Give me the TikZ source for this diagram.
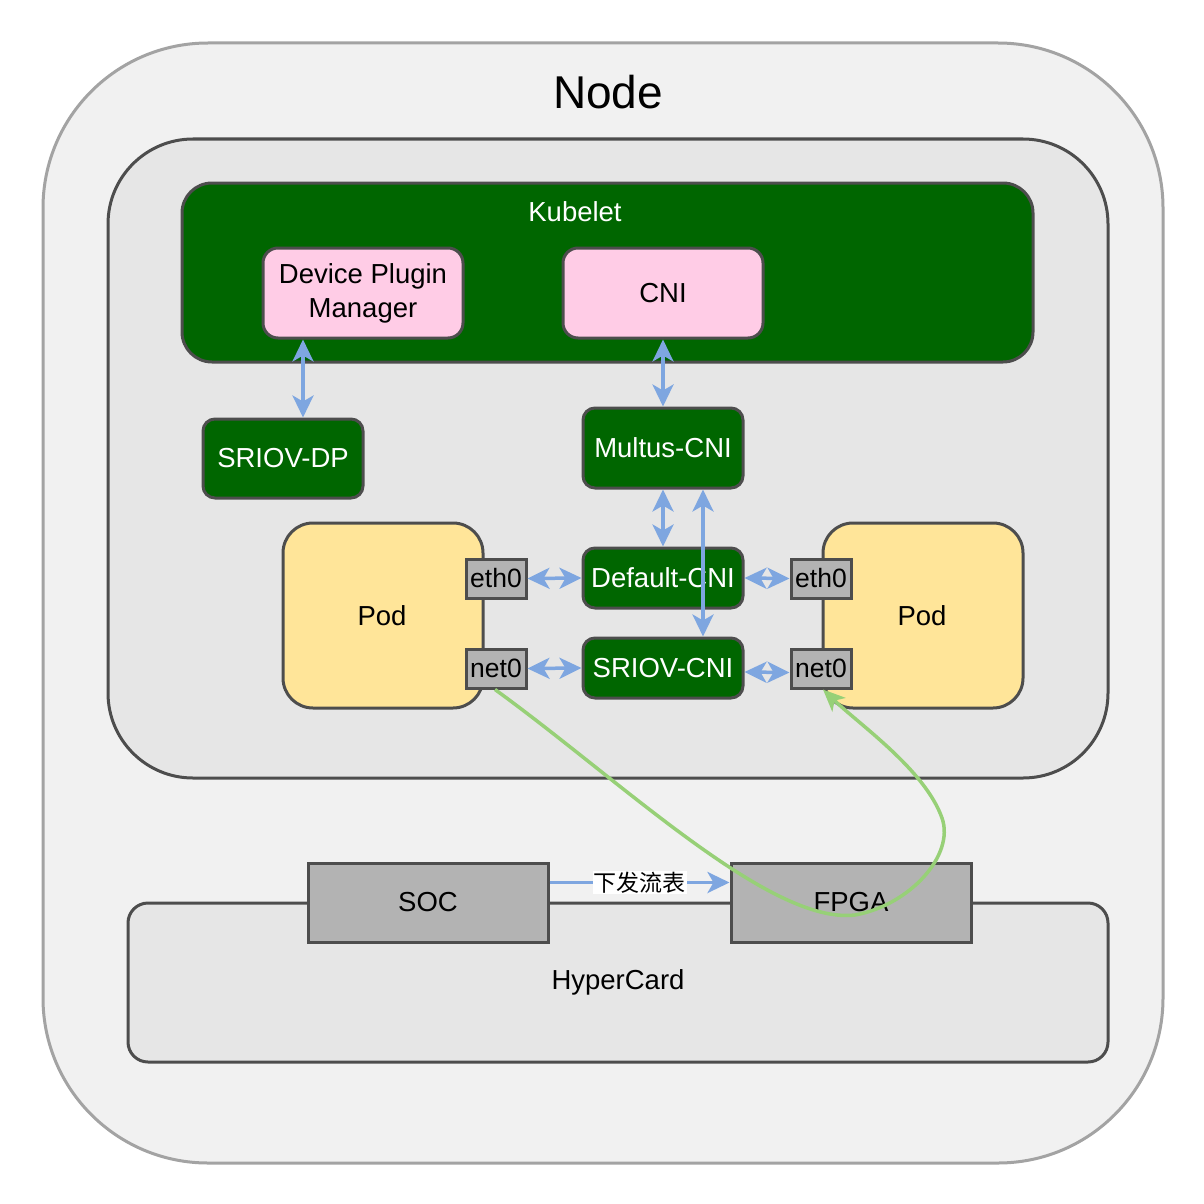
\documentclass[tikz,border=0pt]{standalone}
\usepackage{fontspec}
\setmainfont{Liberation Sans}
\newfontfamily\cjkfont{Noto Sans CJK SC}
\usetikzlibrary{arrows.meta,positioning}
\definecolor{dk}{HTML}{4D4D4D}
\definecolor{outerline}{HTML}{A3A3A3}
\definecolor{outerfill}{HTML}{F1F1F1}
\definecolor{grayfill}{HTML}{E6E6E6}
\definecolor{kgreen}{HTML}{006600}
\definecolor{pinkf}{HTML}{FFCCE6}
\definecolor{podf}{HTML}{FFE599}
\definecolor{portf}{HTML}{B3B3B3}
\definecolor{linkc}{HTML}{7EA6E0}
\definecolor{greenl}{HTML}{97D077}
\tikzset{
  txt/.style={font=\fontsize{27.5}{34}\selectfont, inner sep=0pt, align=center},
  outerbox/.style={draw=outerline, fill=outerfill, line width=3pt, rounded corners=165pt, minimum width=1120pt, minimum height=1120pt, inner sep=0pt},
  graybox/.style={draw=dk, fill=grayfill, line width=3pt, inner sep=0pt},
  greenbox/.style={draw=dk, fill=kgreen, line width=3pt, text=white, rounded corners=12pt, inner sep=0pt, txt},
  pinkbox/.style={draw=dk, fill=pinkf, line width=3pt, rounded corners=15pt, inner sep=0pt, minimum width=200pt, minimum height=90pt, txt},
  podbox/.style={draw=dk, fill=podf, line width=3pt, rounded corners=30pt, inner sep=0pt, minimum width=200pt, minimum height=185pt},
  portbox/.style={draw=dk, fill=portf, line width=3pt, inner sep=0pt, minimum width=60pt, minimum height=39pt, txt, font=\fontsize{26.5}{30}\selectfont},
  chipbox/.style={draw=dk, fill=portf, line width=3pt, inner sep=0pt, minimum width=240pt, minimum height=79pt, txt},
  tip/.tip={Stealth[length=22pt,width=21pt,inset=6pt]},
  link/.style={draw=linkc, line width=3.5pt, tip-tip},
  link1/.style={draw=linkc, line width=3.5pt, -tip},
  greenlink/.style={draw=greenl, line width=3.5pt, -{Stealth[length=22pt,width=19pt,inset=6pt]}},
}
\begin{document}
\begin{tikzpicture}[x=1pt,y=-1pt]
\useasboundingbox (0,0) rectangle (1204,1204);
\fill[white] (0,0) rectangle (1204,1204);
% outer node
\node[outerbox] (nodebox) at (603,603) {};
\node[font=\fontsize{46}{50}\selectfont, inner sep=0pt] (nodelabel) at (608,92) {Node};
% inner gray box
\node[graybox, rounded corners=85pt, minimum width=1000pt, minimum height=639pt] (host) at (608,458.5) {};
% kubelet
\node[graybox, fill=kgreen, rounded corners=30pt, minimum width=851pt, minimum height=179pt] (kubelet) at (607.5,272.5) {};
\node[txt, text=white] (kubeletlabel) at (575,212) {Kubelet};
\node[pinkbox] (dpm) at (363,293) {Device Plugin\\Manager};
\node[pinkbox] (cni) at (663,293) {CNI};
% green plugins
\node[greenbox, minimum width=160pt, minimum height=79pt] (sdp) at (283,458.5) {SRIOV-DP};
\node[greenbox, minimum width=160pt, minimum height=80pt] (multus) at (663,448) {Multus-CNI};
\node[greenbox, minimum width=160pt, minimum height=60pt] (dcni) at (663,578) {Default-CNI};
\node[greenbox, minimum width=160pt, minimum height=60pt] (scni) at (663,668) {SRIOV-CNI};
% pods
\node[podbox] (podl) at (383,615.5) {};
\node[txt] (podltext) at (382,616) {Pod};
\node[podbox] (podr) at (923,615.5) {};
\node[txt] (podrtext) at (922,616) {Pod};
\node[portbox] (ethl) at (496,578.5) {eth0};
\node[portbox] (netl) at (496,668.5) {net0};
\node[portbox] (ethr) at (821,578.5) {eth0};
\node[portbox] (netr) at (821,668.5) {net0};
% hypercard
\node[graybox, rounded corners=20pt, minimum width=980pt, minimum height=159pt] (hyper) at (618,982.5) {};
\node[txt] (hyperlabel) at (618,982) {HyperCard};
\node[chipbox] (soc) at (428,902.5) {SOC};
\node[chipbox] (fpga) at (851,902.5) {FPGA};
% links
\draw[link] ([xshift=-60pt]dpm.south) -- ([xshift=20pt]sdp.north);
\draw[link] (cni.south) -- (multus.north);
\draw[link] (multus.south) -- (dcni.north);
\draw[link] ([xshift=40pt]multus.south) -- ([xshift=40pt]scni.north);
\draw[link] (ethl.east) -- (dcni.west);
\draw[link] (netl.east) -- (scni.west);
\draw[link] (dcni.east) -- (ethr.west);
\draw[link] ([yshift=-4pt]scni.east) -- ([yshift=-4pt]netr.west);
\draw[link1] ([yshift=20pt]soc.east) -- node[fill=white, inner sep=1pt, font=\cjkfont\fontsize{23}{26}\selectfont] (flowlabel) {下发流表} ([yshift=20pt]fpga.west);
% green curve
\draw[greenlink] ([xshift=-1pt]netl.south) .. controls (620,780) and (770,925) .. (855,915)
  .. controls (910,905) and (955,855) .. (942,818)
  .. controls (925,770) and (860,725) .. ([xshift=2pt]netr.south);
\end{tikzpicture}
\end{document}
